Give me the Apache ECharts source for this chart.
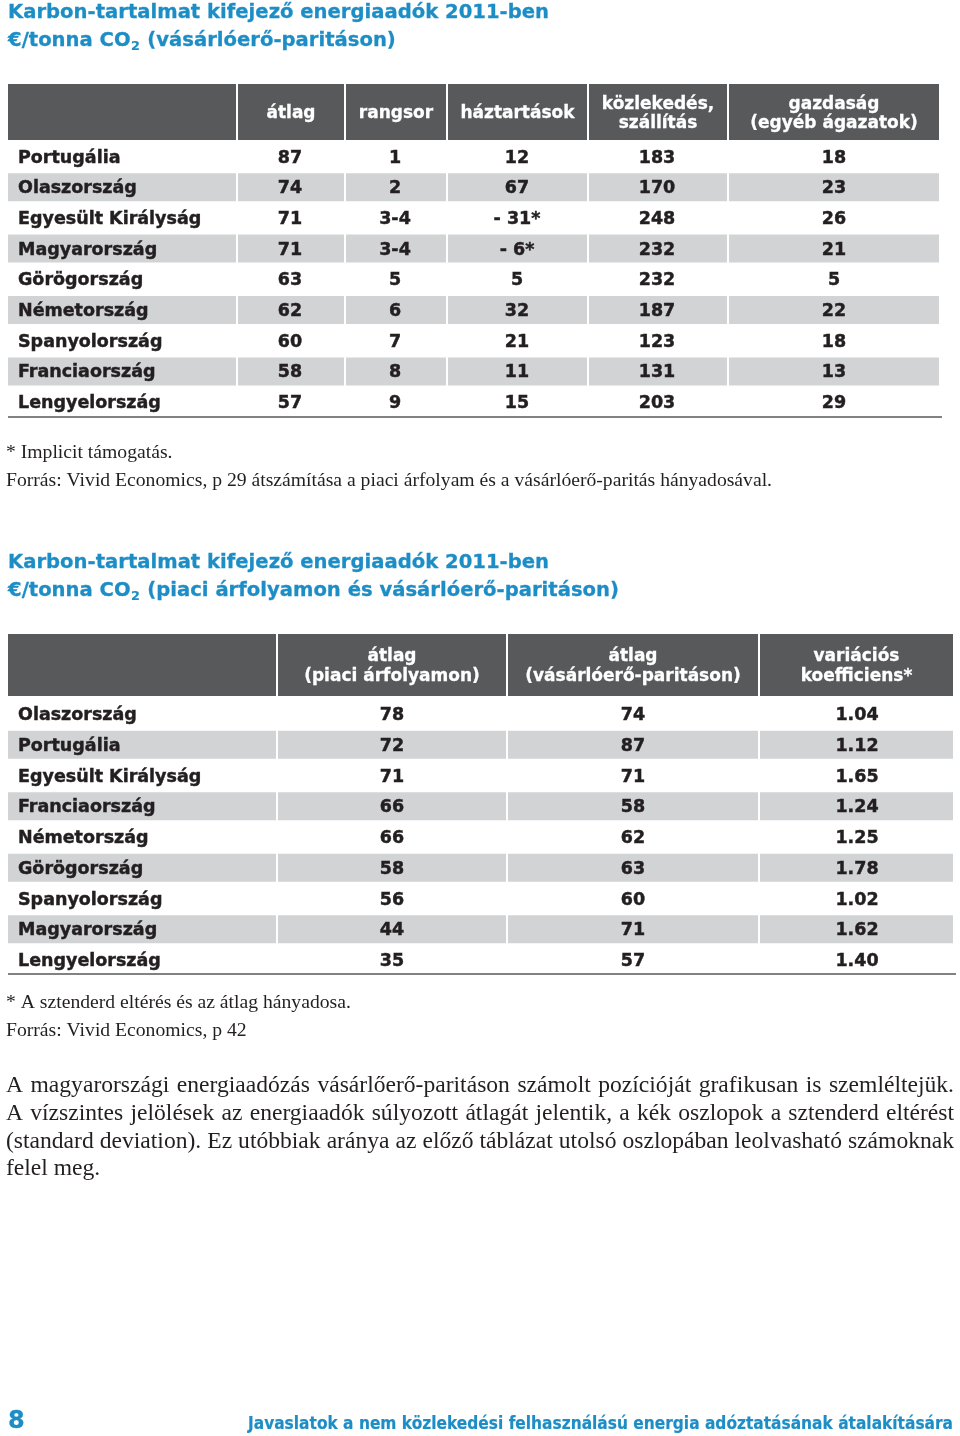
<!DOCTYPE html>
<html>
<head>
<meta charset="utf-8">
<script src="https://cdn.jsdelivr.net/npm/echarts@6/dist/echarts.min.js"></script>
<style>html,body{margin:0;padding:0;background:#fff}#c{width:960px;height:1436px}</style>
</head>
<body>
<div id="c"></div>
<script>
// ---------- DATA ----------
const title1 = 'Karbon-tartalmat kifejező energiaadók 2011-ben';
const title1b = ['€/tonna CO', '2', ' (vásárlóerő-paritáson)'];
const headers1 = ['átlag', 'rangsor', 'háztartások', 'közlekedés,\nszállítás', 'gazdaság\n(egyéb ágazatok)'];
const countries1 = ['Portugália', 'Olaszország', 'Egyesült Királyság', 'Magyarország', 'Görögország', 'Németország', 'Spanyolország', 'Franciaország', 'Lengyelország'];
const atlag1 = [87, 74, 71, 71, 63, 62, 60, 58, 57];
const rangsor1 = ['1', '2', '3-4', '3-4', '5', '6', '7', '8', '9'];
const haztartasok1 = ['12', '67', '- 31*', '- 6*', '5', '32', '21', '11', '15'];
const kozlekedes1 = [183, 170, 248, 232, 232, 187, 123, 131, 203];
const gazdasag1 = [18, 23, 26, 21, 5, 22, 18, 13, 29];
const note1 = '* Implicit támogatás.';
const source1 = 'Forrás: Vivid Economics, p 29 átszámítása a piaci árfolyam és a vásárlóerő-paritás hányadosával.';

const title2 = 'Karbon-tartalmat kifejező energiaadók 2011-ben';
const title2b = ['€/tonna CO', '2', ' (piaci árfolyamon és vásárlóerő-paritáson)'];
const headers2 = ['átlag\n(piaci árfolyamon)', 'átlag\n(vásárlóerő-paritáson)', 'variációs\nkoefficiens*'];
const countries2 = ['Olaszország', 'Portugália', 'Egyesült Királyság', 'Franciaország', 'Németország', 'Görögország', 'Spanyolország', 'Magyarország', 'Lengyelország'];
const piaci2 = [78, 72, 71, 66, 66, 58, 56, 44, 35];
const ppp2 = [74, 87, 71, 58, 62, 63, 60, 71, 57];
const varkoef2 = ['1.04', '1.12', '1.65', '1.24', '1.25', '1.78', '1.02', '1.62', '1.40'];
const note2 = '* A sztenderd eltérés és az átlag hányadosa.';
const source2 = 'Forrás: Vivid Economics, p 42';

const paragraph = [
  'A magyarországi energiaadózás vásárlőerő-paritáson számolt pozícióját grafikusan is szemléltejük.',
  'A vízszintes jelölések az energiaadók súlyozott átlagát jelentik, a kék oszlopok a sztenderd eltérést',
  '(standard deviation). Ez utóbbiak aránya az előző táblázat utolsó oszlopában leolvasható számoknak',
  'felel meg.'
];
const pageNo = '8';
const footer = 'Javaslatok a nem közlekedési felhasználású energia adóztatásának átalakítására';

// ---------- STYLE / LAYOUT ----------
const BLUE = '#1d8dc6', DARK = '#231f20', HEAD = '#58595b', GRAY = '#d1d3d4';
const SANS = '"DejaVu Sans", Verdana, sans-serif';
const SERIF = '"Liberation Serif", "Times New Roman", serif';
const cv = document.createElement('canvas').getContext('2d');
function mw(t, f) { cv.font = f; return cv.measureText(t).width; }

const G = [];
function txt(x, y, t, font, fill, align, lh, sx, stroke) {
  const el = { type: 'text', x: x, y: y, silent: true, style: {
    text: t, font: font, fill: fill, align: align || 'left', textAlign: align || 'left',
    verticalAlign: 'middle', textVerticalAlign: 'middle' } };
  if (lh) el.style.lineHeight = lh;
  if (sx) el.scaleX = sx;
  if (stroke) { el.style.stroke = fill; el.style.lineWidth = stroke; }
  G.push(el);
}
// text squeezed/stretched horizontally to a target width
function txtW(x, y, t, font, fill, w, align, stroke) {
  txt(x, y, t, font, fill, align, null, w / mw(t, font), stroke);
}
function rect(x, y, w, h, fill) {
  G.push({ type: 'rect', silent: true, shape: { x: x, y: y, width: w, height: h }, style: { fill: fill } });
}
function line(x1, x2, y, c, wdt) {
  G.push({ type: 'line', silent: true, shape: { x1: x1, y1: y, x2: x2, y2: y }, style: { stroke: c, lineWidth: wdt } });
}

function title(l1, l2parts, y1, y2, w1) {
  const f = 'bold 20px ' + SANS;
  const s = w1 / mw(l1, f);
  txt(8, y1, l1, f, BLUE, 'left', null, s, 0.3);
  let x = 8;
  txt(x, y2, l2parts[0], f, BLUE, 'left', null, s, 0.3); x += mw(l2parts[0], f) * s;
  const fs = 'bold 13px ' + SANS;
  txt(x + 0.5, y2 + 6, l2parts[1], fs, BLUE, 'left', null, s, 0.2); x += mw(l2parts[1], fs) * s + 1;
  txt(x, y2, l2parts[2], f, BLUE, 'left', null, s, 0.3);
}

const TF = 'bold 17.5px ' + SANS;
const HF = 'bold 17px ' + SANS;

function table(cfg) {
  const e = cfg.edges, n = e.length - 1;
  for (let c = 0; c < n; c++) {
    const x0 = e[c] + (c ? 1 : 0), x1 = e[c + 1] - 1;
    rect(x0, cfg.hTop, x1 - x0, cfg.hBot - cfg.hTop, HEAD);
    if (c > 0) txt((x0 + x1) / 2, (cfg.hTop + cfg.hBot) / 2 + 2, cfg.headers[c - 1], HF, '#fff', 'center', cfg.hLH, null, 0.3);
  }
  cfg.rows.forEach((r, i) => {
    const cy = cfg.c0 + i * cfg.pitch;
    if (i % 2 === 1) {
      for (let c = 0; c < n; c++) {
        const x0 = e[c] + (c ? 1 : 0), x1 = e[c + 1] - 1;
        rect(x0, cy - 14, x1 - x0, 28, GRAY);
      }
    }
    txt(18, cy + 1.5, r[0], TF, DARK, 'left', null, null, 0.45);
    for (let c = 1; c < n; c++) txt(cfg.centers[c - 1], cy + 1.5, String(r[c]), TF, DARK, 'center', null, null, 0.45);
  });
  line(8, cfg.lineEnd, cfg.lineY, HEAD, 1.6);
}

// ---------- TABLE 1 ----------
title(title1, title1b, 13, 41, 541);
table({
  edges: [8, 237, 345, 447, 588, 728, 940], hTop: 84, hBot: 140, hLH: 19,
  headers: headers1, c0: 156.5, pitch: 30.7, lineY: 417, lineEnd: 942,
  centers: [290, 395, 517, 657, 834],
  rows: countries1.map((c, i) => [c, atlag1[i], rangsor1[i], haztartasok1[i], kozlekedes1[i], gazdasag1[i]])
});
const NF = '18.5px ' + SERIF;
const nsx = 766 / mw(source1, NF);
txt(6, 453, note1, NF, DARK, 'left', null, nsx);
txt(6, 481, source1, NF, DARK, 'left', null, nsx);

// ---------- TABLE 2 ----------
title(title2, title2b, 563, 591, 541);
table({
  edges: [8, 277, 507, 759, 954], hTop: 634, hBot: 696, hLH: 20,
  headers: headers2, c0: 714, pitch: 30.75, lineY: 974, lineEnd: 956,
  centers: [392, 633, 857],
  rows: countries2.map((c, i) => [c, piaci2[i], ppp2[i], varkoef2[i]])
});
txt(6, 1003, note2, NF, DARK, 'left', null, nsx);
txt(6, 1031, source2, NF, DARK, 'left', null, nsx);

// ---------- JUSTIFIED PARAGRAPH ----------
let psz = 30;
paragraph.slice(0, 3).forEach(l => { psz = Math.min(psz, 947 / mw(l, '100px ' + SERIF) * 100); });
const PF = psz.toFixed(2) + 'px ' + SERIF;
paragraph.forEach((ln, i) => {
  const y = 1086 + i * 27.7;
  if (i === paragraph.length - 1) { txt(6, y, ln, PF, DARK); return; }
  const words = ln.split(' ');
  const tot = words.reduce((s, w) => s + mw(w, PF), 0);
  const gap = (948 - tot) / (words.length - 1);
  let x = 6;
  words.forEach(w => { txt(x, y, w, PF, DARK); x += mw(w, PF) + gap; });
});

// ---------- FOOTER ----------
txt(8, 1422, pageNo, 'bold 24px ' + SANS, BLUE, 'left', null, null, 0.3);
txtW(953, 1425, footer, 'bold 17px ' + SANS, BLUE, 705, 'right', 0.2);

const chart = echarts.init(document.getElementById('c'), null, { renderer: 'canvas', width: 960, height: 1436 });
chart.setOption({ backgroundColor: '#fff', animation: false, graphic: { elements: G } });
</script>
</body>
</html>
